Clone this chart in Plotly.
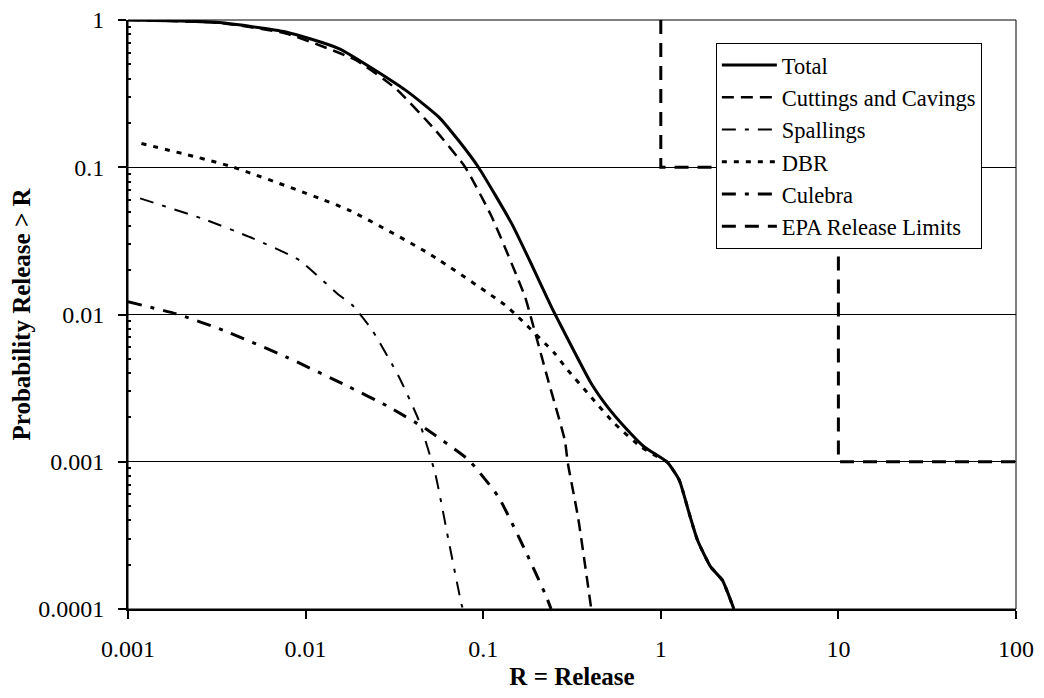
import plotly.graph_objects as go

# ---- data ----
total_x = [0.001, 0.002, 0.00328, 0.00774, 0.0154, 0.0365, 0.0561, 0.0723, 0.094, 0.1445, 0.186, 0.242,
           0.264, 0.406, 0.501, 0.624, 0.808, 1.09, 1.27, 1.445, 1.61, 1.91, 2.22, 2.58]
total_y = [1.0, 0.985, 0.96, 0.83, 0.64, 0.334, 0.22, 0.153, 0.1, 0.0416, 0.0222, 0.01127,
           0.00916, 0.0034, 0.00236, 0.00173, 0.00126, 0.00099, 0.00075, 0.000446, 0.000293, 0.000193, 0.000157, 0.0001]

cut_x = [0.001, 0.00328, 0.00774, 0.0191, 0.0321, 0.0537, 0.0792, 0.1117, 0.172, 0.183, 0.232, 0.288, 0.30, 0.342, 0.406]
cut_y = [1.0, 0.955, 0.81, 0.535, 0.343, 0.179, 0.1, 0.0461, 0.0132, 0.0102, 0.00358, 0.0014, 0.00097, 0.00042, 0.0001]

spall_x = [0.00117, 0.00276, 0.00505, 0.0092, 0.0154, 0.0183, 0.0237, 0.0335, 0.0433, 0.0537, 0.0638, 0.0757, 0.077]
spall_y = [0.0615, 0.0438, 0.0329, 0.0234, 0.01355, 0.0116, 0.00783, 0.00378, 0.00192, 0.00083, 0.000293, 0.000106, 0.0001]

dbr_x = [0.00119, 0.00373, 0.0175, 0.0493, 0.1327, 0.157, 0.253, 0.294, 0.397, 0.548, 0.773, 0.959,
         1.09, 1.27, 1.445, 1.61, 1.91, 2.22, 2.58]
dbr_y = [0.145, 0.102, 0.0512, 0.026, 0.0116, 0.00965, 0.00544, 0.0043, 0.00283, 0.00182, 0.00126, 0.00108,
         0.00099, 0.00075, 0.000446, 0.000293, 0.000193, 0.000157, 0.0001]

cul_x = [0.001, 0.00187, 0.00342, 0.00775, 0.0175, 0.0294, 0.0472, 0.0826, 0.1217, 0.172, 0.227, 0.241]
cul_y = [0.0122, 0.0101, 0.00783, 0.00516, 0.00323, 0.00236, 0.00168, 0.00103, 0.000578, 0.000251, 0.000121, 0.0001]

epa_x = [1, 1, 10, 10, 100]
epa_y = [1, 0.1, 0.1, 0.001, 0.001]

x_ticks = [0.001, 0.01, 0.1, 1, 10, 100]
x_ticktext = ["0.001", "0.01", "0.1", "1", "10", "100"]
y_ticks = [0.0001, 0.001, 0.01, 0.1, 1]
y_ticktext = ["0.0001", "0.001", "0.01", "0.1", "1"]

FONT = "Times New Roman, Liberation Serif, serif"

fig = go.Figure()
fig.add_trace(go.Scatter(x=total_x, y=total_y, name="Total", mode="lines",
                         line=dict(color="black", width=3, shape="spline", smoothing=0.5)))
fig.add_trace(go.Scatter(x=cut_x, y=cut_y, name="Cuttings and Cavings", mode="lines",
                         line=dict(color="black", width=2.5, dash="12px,7px", shape="spline", smoothing=0.5)))
fig.add_trace(go.Scatter(x=spall_x, y=spall_y, name="Spallings", mode="lines",
                         line=dict(color="black", width=2, dash="14px,9px,4px,9px", shape="spline", smoothing=0.5)))
fig.add_trace(go.Scatter(x=dbr_x, y=dbr_y, name="DBR", mode="lines",
                         line=dict(color="black", width=3, dash="5px,7px", shape="spline", smoothing=0.5)))
fig.add_trace(go.Scatter(x=cul_x, y=cul_y, name="Culebra", mode="lines",
                         line=dict(color="black", width=3, dash="14px,9px,4px,9px", shape="spline", smoothing=0.5)))
fig.add_trace(go.Scatter(x=epa_x, y=epa_y, name="EPA Release Limits", mode="lines",
                         line=dict(color="black", width=3, dash="14px,9px")))

minor_y = [k * 10 ** e for e in range(-4, 0) for k in range(2, 10)]

# page body has an 8px default margin; keep the figure inside the 1044x698 window
fig.update_layout(
    width=1028, height=682,
    margin=dict(l=120, r=20, t=12, b=81, autoexpand=False),
    paper_bgcolor="white", plot_bgcolor="white",
    font=dict(family=FONT, size=24, color="black"),
    showlegend=True,
    legend=dict(x=0.662, y=0.961, xanchor="left", yanchor="top",
                bgcolor="white", bordercolor="black", borderwidth=1,
                font=dict(family=FONT, size=22.5, color="black"),
                itemwidth=55, tracegroupgap=0),
    xaxis=dict(type="log", range=[-3, 2], tickvals=x_ticks, ticktext=x_ticktext, automargin=False,
               showgrid=False, zeroline=False, showline=True, linecolor="black", linewidth=2,
               ticks="outside", ticklen=8, tickwidth=1.5, tickcolor="black", ticklabelstandoff=9,
               ticklabeloverflow="allow",
               tickfont=dict(family=FONT, size=24, color="black"),
               title=dict(text="<b>R = Release</b>", font=dict(family=FONT, size=25, color="black"), standoff=8)),
    yaxis=dict(type="log", range=[-4, 0], tickvals=y_ticks, ticktext=y_ticktext, automargin=False,
               showgrid=True, gridcolor="black", gridwidth=1, zeroline=False,
               showline=True, linecolor="black", linewidth=2,
               ticks="outside", ticklen=8, tickwidth=1.5, tickcolor="black", ticklabelstandoff=9,
               ticklabeloverflow="allow",
               tickfont=dict(family=FONT, size=24, color="black"),
               minor=dict(tickvals=minor_y, ticks="inside", ticklen=3, tickcolor="black", showgrid=False),
               title=dict(text="<b>Probability Release > R</b>", font=dict(family=FONT, size=25, color="black"), standoff=2)),
    shapes=[dict(type="rect", xref="paper", yref="paper", x0=0, x1=1, y0=0, y1=1,
                 line=dict(color="black", width=1), layer="above")],
)

fig.write_html("out.html")
